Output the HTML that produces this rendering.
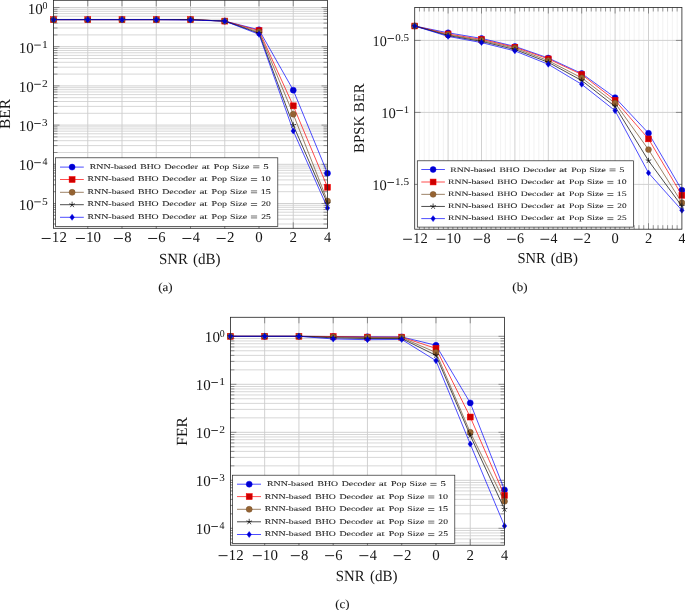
<!DOCTYPE html>
<html><head><meta charset="utf-8"><style>
html,body{margin:0;padding:0;background:#fff;overflow:hidden;}
svg{display:block;will-change:transform;}
text{font-family:"Liberation Serif", serif;fill:#151515;text-rendering:geometricPrecision;}
text.cap{stroke:#151515;stroke-width:0.08px;}
text.lg{fill:#262626;stroke:#262626;stroke-width:0.08px;}
</style></head><body>
<svg width="685" height="610" viewBox="0 0 685 610">
<defs><filter id="bl" x="0" y="0" width="100%" height="100%"><feGaussianBlur stdDeviation="0.28"/></filter></defs>
<rect width="685" height="610" fill="#fff"/>
<g filter="url(#bl)">
<g><path d="M53.5 224H327.5M53.5 219.1H327.5M53.5 215.3H327.5M53.5 212.2H327.5M53.5 209.57H327.5M53.5 207.3H327.5M53.5 205.29H327.5M53.5 191.7H327.5M53.5 184.8H327.5M53.5 179.9H327.5M53.5 176.1H327.5M53.5 173H327.5M53.5 170.37H327.5M53.5 168.1H327.5M53.5 166.09H327.5M53.5 152.5H327.5M53.5 145.6H327.5M53.5 140.7H327.5M53.5 136.9H327.5M53.5 133.8H327.5M53.5 131.17H327.5M53.5 128.9H327.5M53.5 126.89H327.5M53.5 113.3H327.5M53.5 106.4H327.5M53.5 101.5H327.5M53.5 97.7H327.5M53.5 94.6H327.5M53.5 91.97H327.5M53.5 89.7H327.5M53.5 87.69H327.5M53.5 74.1H327.5M53.5 67.2H327.5M53.5 62.3H327.5M53.5 58.5H327.5M53.5 55.4H327.5M53.5 52.77H327.5M53.5 50.5H327.5M53.5 48.49H327.5M53.5 34.9H327.5M53.5 28H327.5M53.5 23.1H327.5M53.5 19.3H327.5M53.5 16.2H327.5M53.5 13.57H327.5M53.5 11.3H327.5M53.5 9.29H327.5" stroke="#d2d2d2" stroke-width="0.9" fill="none"/><path d="M53.5 7.5H327.5M53.5 46.7H327.5M53.5 85.9H327.5M53.5 125.1H327.5M53.5 164.3H327.5M53.5 203.5H327.5M87.75 0.3V228.3M122 0.3V228.3M156.25 0.3V228.3M190.5 0.3V228.3M224.75 0.3V228.3M259 0.3V228.3M293.25 0.3V228.3" stroke="#cccccc" stroke-width="0.9" fill="none"/><path d="M53.5 7.5h6M327.5 7.5h-6M53.5 46.7h6M327.5 46.7h-6M53.5 85.9h6M327.5 85.9h-6M53.5 125.1h6M327.5 125.1h-6M53.5 164.3h6M327.5 164.3h-6M53.5 203.5h6M327.5 203.5h-6M53.5 224h4M327.5 224h-4M53.5 219.1h4M327.5 219.1h-4M53.5 215.3h4M327.5 215.3h-4M53.5 212.2h4M327.5 212.2h-4M53.5 209.57h4M327.5 209.57h-4M53.5 207.3h4M327.5 207.3h-4M53.5 205.29h4M327.5 205.29h-4M53.5 191.7h4M327.5 191.7h-4M53.5 184.8h4M327.5 184.8h-4M53.5 179.9h4M327.5 179.9h-4M53.5 176.1h4M327.5 176.1h-4M53.5 173h4M327.5 173h-4M53.5 170.37h4M327.5 170.37h-4M53.5 168.1h4M327.5 168.1h-4M53.5 166.09h4M327.5 166.09h-4M53.5 152.5h4M327.5 152.5h-4M53.5 145.6h4M327.5 145.6h-4M53.5 140.7h4M327.5 140.7h-4M53.5 136.9h4M327.5 136.9h-4M53.5 133.8h4M327.5 133.8h-4M53.5 131.17h4M327.5 131.17h-4M53.5 128.9h4M327.5 128.9h-4M53.5 126.89h4M327.5 126.89h-4M53.5 113.3h4M327.5 113.3h-4M53.5 106.4h4M327.5 106.4h-4M53.5 101.5h4M327.5 101.5h-4M53.5 97.7h4M327.5 97.7h-4M53.5 94.6h4M327.5 94.6h-4M53.5 91.97h4M327.5 91.97h-4M53.5 89.7h4M327.5 89.7h-4M53.5 87.69h4M327.5 87.69h-4M53.5 74.1h4M327.5 74.1h-4M53.5 67.2h4M327.5 67.2h-4M53.5 62.3h4M327.5 62.3h-4M53.5 58.5h4M327.5 58.5h-4M53.5 55.4h4M327.5 55.4h-4M53.5 52.77h4M327.5 52.77h-4M53.5 50.5h4M327.5 50.5h-4M53.5 48.49h4M327.5 48.49h-4M53.5 34.9h4M327.5 34.9h-4M53.5 28h4M327.5 28h-4M53.5 23.1h4M327.5 23.1h-4M53.5 19.3h4M327.5 19.3h-4M53.5 16.2h4M327.5 16.2h-4M53.5 13.57h4M327.5 13.57h-4M53.5 11.3h4M327.5 11.3h-4M53.5 9.29h4M327.5 9.29h-4M87.75 0.3v6M87.75 228.3v-6M122 0.3v6M122 228.3v-6M156.25 0.3v6M156.25 228.3v-6M190.5 0.3v6M190.5 228.3v-6M224.75 0.3v6M224.75 228.3v-6M259 0.3v6M259 228.3v-6M293.25 0.3v6M293.25 228.3v-6" stroke="#555" stroke-width="0.6" fill="none"/><path d="M53.5 19.64L87.75 19.64L122 19.64L156.25 19.64L190.5 19.64L224.75 21.09L259 29.79L293.25 90.13L327.5 173.28" stroke="#0000ff" stroke-width="0.7" fill="none" stroke-linejoin="round"/><circle cx="53.5" cy="19.64" r="3" fill="#0000cc" stroke="#0000ff" stroke-width="0.5"/><circle cx="87.75" cy="19.64" r="3" fill="#0000cc" stroke="#0000ff" stroke-width="0.5"/><circle cx="122" cy="19.64" r="3" fill="#0000cc" stroke="#0000ff" stroke-width="0.5"/><circle cx="156.25" cy="19.64" r="3" fill="#0000cc" stroke="#0000ff" stroke-width="0.5"/><circle cx="190.5" cy="19.64" r="3" fill="#0000cc" stroke="#0000ff" stroke-width="0.5"/><circle cx="224.75" cy="21.09" r="3" fill="#0000cc" stroke="#0000ff" stroke-width="0.5"/><circle cx="259" cy="29.79" r="3" fill="#0000cc" stroke="#0000ff" stroke-width="0.5"/><circle cx="293.25" cy="90.13" r="3" fill="#0000cc" stroke="#0000ff" stroke-width="0.5"/><circle cx="327.5" cy="173.28" r="3" fill="#0000cc" stroke="#0000ff" stroke-width="0.5"/><path d="M53.5 19.64L87.75 19.64L122 19.64L156.25 19.64L190.5 19.64L224.75 21.09L259 30.7L293.25 105.84L327.5 187.23" stroke="#ff0000" stroke-width="0.7" fill="none" stroke-linejoin="round"/><rect x="50.5" y="16.64" width="6" height="6" fill="#cc0000" stroke="#ff0000" stroke-width="0.5"/><rect x="84.75" y="16.64" width="6" height="6" fill="#cc0000" stroke="#ff0000" stroke-width="0.5"/><rect x="119" y="16.64" width="6" height="6" fill="#cc0000" stroke="#ff0000" stroke-width="0.5"/><rect x="153.25" y="16.64" width="6" height="6" fill="#cc0000" stroke="#ff0000" stroke-width="0.5"/><rect x="187.5" y="16.64" width="6" height="6" fill="#cc0000" stroke="#ff0000" stroke-width="0.5"/><rect x="221.75" y="18.09" width="6" height="6" fill="#cc0000" stroke="#ff0000" stroke-width="0.5"/><rect x="256" y="27.7" width="6" height="6" fill="#cc0000" stroke="#ff0000" stroke-width="0.5"/><rect x="290.25" y="102.84" width="6" height="6" fill="#cc0000" stroke="#ff0000" stroke-width="0.5"/><rect x="324.5" y="184.23" width="6" height="6" fill="#cc0000" stroke="#ff0000" stroke-width="0.5"/><path d="M53.5 19.64L87.75 19.64L122 19.64L156.25 19.64L190.5 19.64L224.75 21.09L259 32.08L293.25 114.17L327.5 201.12" stroke="#734d26" stroke-width="0.7" fill="none" stroke-linejoin="round"/><circle cx="53.5" cy="19.64" r="3" fill="#996633" stroke="#734d26" stroke-width="0.5"/><path d="M51.4 17.54L55.6 21.74M51.4 21.74L55.6 17.54" stroke="#734d26" stroke-width="0.4" opacity="0.5"/><circle cx="87.75" cy="19.64" r="3" fill="#996633" stroke="#734d26" stroke-width="0.5"/><path d="M85.65 17.54L89.85 21.74M85.65 21.74L89.85 17.54" stroke="#734d26" stroke-width="0.4" opacity="0.5"/><circle cx="122" cy="19.64" r="3" fill="#996633" stroke="#734d26" stroke-width="0.5"/><path d="M119.9 17.54L124.1 21.74M119.9 21.74L124.1 17.54" stroke="#734d26" stroke-width="0.4" opacity="0.5"/><circle cx="156.25" cy="19.64" r="3" fill="#996633" stroke="#734d26" stroke-width="0.5"/><path d="M154.15 17.54L158.35 21.74M154.15 21.74L158.35 17.54" stroke="#734d26" stroke-width="0.4" opacity="0.5"/><circle cx="190.5" cy="19.64" r="3" fill="#996633" stroke="#734d26" stroke-width="0.5"/><path d="M188.4 17.54L192.6 21.74M188.4 21.74L192.6 17.54" stroke="#734d26" stroke-width="0.4" opacity="0.5"/><circle cx="224.75" cy="21.09" r="3" fill="#996633" stroke="#734d26" stroke-width="0.5"/><path d="M222.65 18.99L226.85 23.19M222.65 23.19L226.85 18.99" stroke="#734d26" stroke-width="0.4" opacity="0.5"/><circle cx="259" cy="32.08" r="3" fill="#996633" stroke="#734d26" stroke-width="0.5"/><path d="M256.9 29.98L261.1 34.18M256.9 34.18L261.1 29.98" stroke="#734d26" stroke-width="0.4" opacity="0.5"/><circle cx="293.25" cy="114.17" r="3" fill="#996633" stroke="#734d26" stroke-width="0.5"/><path d="M291.15 112.07L295.35 116.27M291.15 116.27L295.35 112.07" stroke="#734d26" stroke-width="0.4" opacity="0.5"/><circle cx="327.5" cy="201.12" r="3" fill="#996633" stroke="#734d26" stroke-width="0.5"/><path d="M325.4 199.02L329.6 203.22M325.4 203.22L329.6 199.02" stroke="#734d26" stroke-width="0.4" opacity="0.5"/><path d="M53.5 19.64L87.75 19.64L122 19.64L156.25 19.64L190.5 19.64L224.75 21.09L259 33.28L293.25 125.27L327.5 203.5" stroke="#000000" stroke-width="0.7" fill="none" stroke-linejoin="round"/><path d="M53.5 19.64L53.5 16.64M53.5 19.64L50.65 18.72M53.5 19.64L51.74 22.07M53.5 19.64L55.26 22.07M53.5 19.64L56.35 18.72" stroke="#000000" stroke-width="0.7" fill="none"/><path d="M87.75 19.64L87.75 16.64M87.75 19.64L84.9 18.72M87.75 19.64L85.99 22.07M87.75 19.64L89.51 22.07M87.75 19.64L90.6 18.72" stroke="#000000" stroke-width="0.7" fill="none"/><path d="M122 19.64L122 16.64M122 19.64L119.15 18.72M122 19.64L120.24 22.07M122 19.64L123.76 22.07M122 19.64L124.85 18.72" stroke="#000000" stroke-width="0.7" fill="none"/><path d="M156.25 19.64L156.25 16.64M156.25 19.64L153.4 18.72M156.25 19.64L154.49 22.07M156.25 19.64L158.01 22.07M156.25 19.64L159.1 18.72" stroke="#000000" stroke-width="0.7" fill="none"/><path d="M190.5 19.64L190.5 16.64M190.5 19.64L187.65 18.72M190.5 19.64L188.74 22.07M190.5 19.64L192.26 22.07M190.5 19.64L193.35 18.72" stroke="#000000" stroke-width="0.7" fill="none"/><path d="M224.75 21.09L224.75 18.09M224.75 21.09L221.9 20.17M224.75 21.09L222.99 23.52M224.75 21.09L226.51 23.52M224.75 21.09L227.6 20.17" stroke="#000000" stroke-width="0.7" fill="none"/><path d="M259 33.28L259 30.28M259 33.28L256.15 32.35M259 33.28L257.24 35.7M259 33.28L260.76 35.7M259 33.28L261.85 32.35" stroke="#000000" stroke-width="0.7" fill="none"/><path d="M293.25 125.27L293.25 122.27M293.25 125.27L290.4 124.34M293.25 125.27L291.49 127.7M293.25 125.27L295.01 127.7M293.25 125.27L296.1 124.34" stroke="#000000" stroke-width="0.7" fill="none"/><path d="M327.5 203.5L327.5 200.5M327.5 203.5L324.65 202.57M327.5 203.5L325.74 205.93M327.5 203.5L329.26 205.93M327.5 203.5L330.35 202.57" stroke="#000000" stroke-width="0.7" fill="none"/><path d="M53.5 19.64L87.75 19.64L122 19.64L156.25 19.64L190.5 20L224.75 21.09L259 34.31L293.25 130.93L327.5 207.95" stroke="#0000ff" stroke-width="0.7" fill="none" stroke-linejoin="round"/><path d="M53.5 16.64L55.75 19.64L53.5 22.64L51.25 19.64Z" fill="#0000cc" stroke="#0000ff" stroke-width="0.5"/><path d="M87.75 16.64L90 19.64L87.75 22.64L85.5 19.64Z" fill="#0000cc" stroke="#0000ff" stroke-width="0.5"/><path d="M122 16.64L124.25 19.64L122 22.64L119.75 19.64Z" fill="#0000cc" stroke="#0000ff" stroke-width="0.5"/><path d="M156.25 16.64L158.5 19.64L156.25 22.64L154 19.64Z" fill="#0000cc" stroke="#0000ff" stroke-width="0.5"/><path d="M190.5 17L192.75 20L190.5 23L188.25 20Z" fill="#0000cc" stroke="#0000ff" stroke-width="0.5"/><path d="M224.75 18.09L227 21.09L224.75 24.09L222.5 21.09Z" fill="#0000cc" stroke="#0000ff" stroke-width="0.5"/><path d="M259 31.31L261.25 34.31L259 37.31L256.75 34.31Z" fill="#0000cc" stroke="#0000ff" stroke-width="0.5"/><path d="M293.25 127.93L295.5 130.93L293.25 133.93L291 130.93Z" fill="#0000cc" stroke="#0000ff" stroke-width="0.5"/><path d="M327.5 204.95L329.75 207.95L327.5 210.95L325.25 207.95Z" fill="#0000cc" stroke="#0000ff" stroke-width="0.5"/><rect x="55.6" y="157.8" width="222.2" height="68.7" fill="#fff" stroke="#222" stroke-width="0.7"/><path d="M60 167.1H83.8" stroke="#0000ff" stroke-width="0.7"/><circle cx="72.1" cy="167.1" r="3" fill="#0000cc" stroke="#0000ff" stroke-width="0.5"/><text x="89.77" y="168.6" font-size="7.1" textLength="46.6" lengthAdjust="spacingAndGlyphs" class="lg">RNN-based</text><text x="140.27" y="168.6" font-size="7.1" textLength="20.58" lengthAdjust="spacingAndGlyphs" class="lg">BHO</text><text x="164.46" y="168.6" font-size="7.1" textLength="33.57" lengthAdjust="spacingAndGlyphs" class="lg">Decoder</text><text x="201.66" y="168.6" font-size="7.1" textLength="8.06" lengthAdjust="spacingAndGlyphs" class="lg">at</text><text x="213.86" y="168.6" font-size="7.1" textLength="15.47" lengthAdjust="spacingAndGlyphs" class="lg">Pop</text><text x="232.29" y="168.6" font-size="7.1" textLength="17.11" lengthAdjust="spacingAndGlyphs" class="lg">Size</text><rect x="253.15" y="165.53" width="6.2" height="0.75" fill="#444"/><rect x="253.15" y="167.47" width="6.2" height="0.75" fill="#444"/><text x="263.23" y="168.6" font-size="7.1" textLength="5.34" lengthAdjust="spacingAndGlyphs" class="lg">5</text><path d="M60 179.5H83.8" stroke="#ff0000" stroke-width="0.7"/><rect x="69.1" y="176.5" width="6" height="6" fill="#cc0000" stroke="#ff0000" stroke-width="0.5"/><text x="87.52" y="181.1" font-size="7.1" textLength="46.6" lengthAdjust="spacingAndGlyphs" class="lg">RNN-based</text><text x="138.02" y="181.1" font-size="7.1" textLength="20.58" lengthAdjust="spacingAndGlyphs" class="lg">BHO</text><text x="162.21" y="181.1" font-size="7.1" textLength="33.57" lengthAdjust="spacingAndGlyphs" class="lg">Decoder</text><text x="199.41" y="181.1" font-size="7.1" textLength="8.06" lengthAdjust="spacingAndGlyphs" class="lg">at</text><text x="211.61" y="181.1" font-size="7.1" textLength="15.47" lengthAdjust="spacingAndGlyphs" class="lg">Pop</text><text x="230.04" y="181.1" font-size="7.1" textLength="17.11" lengthAdjust="spacingAndGlyphs" class="lg">Size</text><rect x="250.9" y="178.03" width="6.2" height="0.75" fill="#444"/><rect x="250.9" y="179.97" width="6.2" height="0.75" fill="#444"/><text x="260.72" y="181.1" font-size="7.1" textLength="10.07" lengthAdjust="spacingAndGlyphs" class="lg">10</text><path d="M60 192.3H83.8" stroke="#734d26" stroke-width="0.7"/><circle cx="72.1" cy="192.3" r="3" fill="#996633" stroke="#734d26" stroke-width="0.5"/><path d="M70 190.2L74.2 194.4M70 194.4L74.2 190.2" stroke="#734d26" stroke-width="0.4" opacity="0.5"/><text x="87.52" y="193.6" font-size="7.1" textLength="46.6" lengthAdjust="spacingAndGlyphs" class="lg">RNN-based</text><text x="138.02" y="193.6" font-size="7.1" textLength="20.58" lengthAdjust="spacingAndGlyphs" class="lg">BHO</text><text x="162.21" y="193.6" font-size="7.1" textLength="33.57" lengthAdjust="spacingAndGlyphs" class="lg">Decoder</text><text x="199.41" y="193.6" font-size="7.1" textLength="8.06" lengthAdjust="spacingAndGlyphs" class="lg">at</text><text x="211.61" y="193.6" font-size="7.1" textLength="15.47" lengthAdjust="spacingAndGlyphs" class="lg">Pop</text><text x="230.04" y="193.6" font-size="7.1" textLength="17.11" lengthAdjust="spacingAndGlyphs" class="lg">Size</text><rect x="250.9" y="190.53" width="6.2" height="0.75" fill="#444"/><rect x="250.9" y="192.47" width="6.2" height="0.75" fill="#444"/><text x="260.71" y="193.6" font-size="7.1" textLength="10.08" lengthAdjust="spacingAndGlyphs" class="lg">15</text><path d="M60 204.7H83.8" stroke="#000000" stroke-width="0.7"/><path d="M72.1 204.7L72.1 201.7M72.1 204.7L69.25 203.77M72.1 204.7L70.34 207.13M72.1 204.7L73.86 207.13M72.1 204.7L74.95 203.77" stroke="#000000" stroke-width="0.7" fill="none"/><text x="87.52" y="206.2" font-size="7.1" textLength="46.6" lengthAdjust="spacingAndGlyphs" class="lg">RNN-based</text><text x="138.02" y="206.2" font-size="7.1" textLength="20.58" lengthAdjust="spacingAndGlyphs" class="lg">BHO</text><text x="162.21" y="206.2" font-size="7.1" textLength="33.57" lengthAdjust="spacingAndGlyphs" class="lg">Decoder</text><text x="199.41" y="206.2" font-size="7.1" textLength="8.06" lengthAdjust="spacingAndGlyphs" class="lg">at</text><text x="211.61" y="206.2" font-size="7.1" textLength="15.47" lengthAdjust="spacingAndGlyphs" class="lg">Pop</text><text x="230.04" y="206.2" font-size="7.1" textLength="17.11" lengthAdjust="spacingAndGlyphs" class="lg">Size</text><rect x="250.9" y="203.12" width="6.2" height="0.75" fill="#444"/><rect x="250.9" y="205.07" width="6.2" height="0.75" fill="#444"/><text x="261.18" y="206.2" font-size="7.1" textLength="9.59" lengthAdjust="spacingAndGlyphs" class="lg">20</text><path d="M60 217.3H83.8" stroke="#0000ff" stroke-width="0.7"/><path d="M72.1 214.3L74.35 217.3L72.1 220.3L69.85 217.3Z" fill="#0000cc" stroke="#0000ff" stroke-width="0.5"/><text x="87.52" y="218.7" font-size="7.1" textLength="46.6" lengthAdjust="spacingAndGlyphs" class="lg">RNN-based</text><text x="138.02" y="218.7" font-size="7.1" textLength="20.58" lengthAdjust="spacingAndGlyphs" class="lg">BHO</text><text x="162.21" y="218.7" font-size="7.1" textLength="33.57" lengthAdjust="spacingAndGlyphs" class="lg">Decoder</text><text x="199.41" y="218.7" font-size="7.1" textLength="8.06" lengthAdjust="spacingAndGlyphs" class="lg">at</text><text x="211.61" y="218.7" font-size="7.1" textLength="15.47" lengthAdjust="spacingAndGlyphs" class="lg">Pop</text><text x="230.04" y="218.7" font-size="7.1" textLength="17.11" lengthAdjust="spacingAndGlyphs" class="lg">Size</text><rect x="250.9" y="215.62" width="6.2" height="0.75" fill="#444"/><rect x="250.9" y="217.57" width="6.2" height="0.75" fill="#444"/><text x="261.18" y="218.7" font-size="7.1" textLength="9.6" lengthAdjust="spacingAndGlyphs" class="lg">25</text><rect x="53.5" y="0.3" width="274" height="228" fill="none" stroke="#222" stroke-width="0.8"/><rect x="41.66" y="237.98" width="9" height="0.95" fill="#1a1a1a"/><text x="51.89" y="242.4" font-size="15" textLength="7.12" lengthAdjust="spacingAndGlyphs" >1</text><text x="59.43" y="242.4" font-size="15" textLength="7.46" lengthAdjust="spacingAndGlyphs" >2</text><rect x="75.91" y="237.98" width="9" height="0.95" fill="#1a1a1a"/><text x="86.14" y="242.4" font-size="15" textLength="7.12" lengthAdjust="spacingAndGlyphs" >1</text><text x="93.6" y="242.4" font-size="15" textLength="7.47" lengthAdjust="spacingAndGlyphs" >0</text><rect x="113.91" y="237.98" width="9" height="0.95" fill="#1a1a1a"/><text x="124.16" y="242.4" font-size="15" textLength="7.34" lengthAdjust="spacingAndGlyphs" >8</text><rect x="148.16" y="237.98" width="9" height="0.95" fill="#1a1a1a"/><text x="158.34" y="242.4" font-size="15" textLength="7.29" lengthAdjust="spacingAndGlyphs" >6</text><rect x="182.41" y="237.98" width="9" height="0.95" fill="#1a1a1a"/><text x="192.73" y="242.4" font-size="15" textLength="7.15" lengthAdjust="spacingAndGlyphs" >4</text><rect x="216.66" y="237.98" width="9" height="0.95" fill="#1a1a1a"/><text x="226.93" y="242.4" font-size="15" textLength="7.46" lengthAdjust="spacingAndGlyphs" >2</text><text x="255.27" y="242.4" font-size="15" textLength="7.47" lengthAdjust="spacingAndGlyphs" >0</text><text x="289.59" y="242.4" font-size="15" textLength="7.46" lengthAdjust="spacingAndGlyphs" >2</text><text x="323.89" y="242.4" font-size="15" textLength="7.15" lengthAdjust="spacingAndGlyphs" >4</text><text x="27.77" y="13.6" font-size="15" textLength="15.1" lengthAdjust="spacingAndGlyphs" >10</text><text x="42.62" y="8.6" font-size="10.5" textLength="4.95" lengthAdjust="spacingAndGlyphs" >0</text><text x="18.68" y="52.8" font-size="15" textLength="14.99" lengthAdjust="spacingAndGlyphs" >10</text><rect x="34.2" y="44.65" width="6.6" height="0.85" fill="#1a1a1a"/><text x="42.08" y="47.8" font-size="10.5" textLength="5.82" lengthAdjust="spacingAndGlyphs" >1</text><text x="18.68" y="92" font-size="15" textLength="14.99" lengthAdjust="spacingAndGlyphs" >10</text><rect x="34.2" y="83.84" width="6.6" height="0.85" fill="#1a1a1a"/><text x="42.1" y="87" font-size="10.5" textLength="5.74" lengthAdjust="spacingAndGlyphs" >2</text><text x="18.68" y="131.2" font-size="15" textLength="14.99" lengthAdjust="spacingAndGlyphs" >10</text><rect x="34.2" y="123.05" width="6.6" height="0.85" fill="#1a1a1a"/><text x="42.07" y="126.2" font-size="10.5" textLength="5.57" lengthAdjust="spacingAndGlyphs" >3</text><text x="18.68" y="170.4" font-size="15" textLength="14.99" lengthAdjust="spacingAndGlyphs" >10</text><rect x="34.2" y="162.25" width="6.6" height="0.85" fill="#1a1a1a"/><text x="42.41" y="165.4" font-size="10.5" textLength="4.95" lengthAdjust="spacingAndGlyphs" >4</text><text x="18.68" y="209.6" font-size="15" textLength="14.99" lengthAdjust="spacingAndGlyphs" >10</text><rect x="34.2" y="201.44" width="6.6" height="0.85" fill="#1a1a1a"/><text x="41.94" y="204.6" font-size="10.5" textLength="5.71" lengthAdjust="spacingAndGlyphs" >5</text><text x="158.9" y="263.5" font-size="15.5" textLength="29.02" lengthAdjust="spacingAndGlyphs" >SNR</text><text x="192.94" y="263.5" font-size="15.5" textLength="27.62" lengthAdjust="spacingAndGlyphs" >(dB)</text><text transform="translate(10 128.6) rotate(-90)" x="-0.45" y="0" font-size="15.5" textLength="30.17" lengthAdjust="spacingAndGlyphs" >BER</text><text x="158.23" y="290.5" font-size="12.2" textLength="14.44" lengthAdjust="spacingAndGlyphs" class="cap">(a)</text></g><g><path d="M419.47 7.5V229.2M424.24 7.5V229.2M429.01 7.5V229.2M433.79 7.5V229.2M438.56 7.5V229.2M443.33 7.5V229.2M452.87 7.5V229.2M457.64 7.5V229.2M462.41 7.5V229.2M467.19 7.5V229.2M471.96 7.5V229.2M476.73 7.5V229.2M486.27 7.5V229.2M491.04 7.5V229.2M495.81 7.5V229.2M500.59 7.5V229.2M505.36 7.5V229.2M510.13 7.5V229.2M519.67 7.5V229.2M524.44 7.5V229.2M529.21 7.5V229.2M533.99 7.5V229.2M538.76 7.5V229.2M543.53 7.5V229.2M553.07 7.5V229.2M557.84 7.5V229.2M562.61 7.5V229.2M567.39 7.5V229.2M572.16 7.5V229.2M576.93 7.5V229.2M586.47 7.5V229.2M591.24 7.5V229.2M596.01 7.5V229.2M600.79 7.5V229.2M605.56 7.5V229.2M610.33 7.5V229.2M619.87 7.5V229.2M624.64 7.5V229.2M629.41 7.5V229.2M634.19 7.5V229.2M638.96 7.5V229.2M643.73 7.5V229.2M653.27 7.5V229.2M658.04 7.5V229.2M662.81 7.5V229.2M667.59 7.5V229.2M672.36 7.5V229.2M677.13 7.5V229.2" stroke="#f0f0f0" stroke-width="0.9" fill="none"/><path d="M414.7 40.4H681.9M414.7 112.4H681.9M414.7 184.4H681.9M448.1 7.5V229.2M481.5 7.5V229.2M514.9 7.5V229.2M548.3 7.5V229.2M581.7 7.5V229.2M615.1 7.5V229.2M648.5 7.5V229.2" stroke="#cccccc" stroke-width="0.9" fill="none"/><path d="M414.7 40.4h6M681.9 40.4h-6M414.7 112.4h6M681.9 112.4h-6M414.7 184.4h6M681.9 184.4h-6M448.1 7.5v6M448.1 229.2v-6M481.5 7.5v6M481.5 229.2v-6M514.9 7.5v6M514.9 229.2v-6M548.3 7.5v6M548.3 229.2v-6M581.7 7.5v6M581.7 229.2v-6M615.1 7.5v6M615.1 229.2v-6M648.5 7.5v6M648.5 229.2v-6M419.47 7.5v4M419.47 229.2v-4M424.24 7.5v4M424.24 229.2v-4M429.01 7.5v4M429.01 229.2v-4M433.79 7.5v4M433.79 229.2v-4M438.56 7.5v4M438.56 229.2v-4M443.33 7.5v4M443.33 229.2v-4M452.87 7.5v4M452.87 229.2v-4M457.64 7.5v4M457.64 229.2v-4M462.41 7.5v4M462.41 229.2v-4M467.19 7.5v4M467.19 229.2v-4M471.96 7.5v4M471.96 229.2v-4M476.73 7.5v4M476.73 229.2v-4M486.27 7.5v4M486.27 229.2v-4M491.04 7.5v4M491.04 229.2v-4M495.81 7.5v4M495.81 229.2v-4M500.59 7.5v4M500.59 229.2v-4M505.36 7.5v4M505.36 229.2v-4M510.13 7.5v4M510.13 229.2v-4M519.67 7.5v4M519.67 229.2v-4M524.44 7.5v4M524.44 229.2v-4M529.21 7.5v4M529.21 229.2v-4M533.99 7.5v4M533.99 229.2v-4M538.76 7.5v4M538.76 229.2v-4M543.53 7.5v4M543.53 229.2v-4M553.07 7.5v4M553.07 229.2v-4M557.84 7.5v4M557.84 229.2v-4M562.61 7.5v4M562.61 229.2v-4M567.39 7.5v4M567.39 229.2v-4M572.16 7.5v4M572.16 229.2v-4M576.93 7.5v4M576.93 229.2v-4M586.47 7.5v4M586.47 229.2v-4M591.24 7.5v4M591.24 229.2v-4M596.01 7.5v4M596.01 229.2v-4M600.79 7.5v4M600.79 229.2v-4M605.56 7.5v4M605.56 229.2v-4M610.33 7.5v4M610.33 229.2v-4M619.87 7.5v4M619.87 229.2v-4M624.64 7.5v4M624.64 229.2v-4M629.41 7.5v4M629.41 229.2v-4M634.19 7.5v4M634.19 229.2v-4M638.96 7.5v4M638.96 229.2v-4M643.73 7.5v4M643.73 229.2v-4M653.27 7.5v4M653.27 229.2v-4M658.04 7.5v4M658.04 229.2v-4M662.81 7.5v4M662.81 229.2v-4M667.59 7.5v4M667.59 229.2v-4M672.36 7.5v4M672.36 229.2v-4M677.13 7.5v4M677.13 229.2v-4" stroke="#555" stroke-width="0.6" fill="none"/><path d="M414.7 26L448.1 32.8L481.5 38.4L514.9 46.4L548.3 58L581.7 73.5L615.1 97.6L648.5 133.2L681.9 190.2" stroke="#0000ff" stroke-width="0.7" fill="none" stroke-linejoin="round"/><circle cx="414.7" cy="26" r="2.95" fill="#0000cc" stroke="#0000ff" stroke-width="0.5"/><circle cx="448.1" cy="32.8" r="2.95" fill="#0000cc" stroke="#0000ff" stroke-width="0.5"/><circle cx="481.5" cy="38.4" r="2.95" fill="#0000cc" stroke="#0000ff" stroke-width="0.5"/><circle cx="514.9" cy="46.4" r="2.95" fill="#0000cc" stroke="#0000ff" stroke-width="0.5"/><circle cx="548.3" cy="58" r="2.95" fill="#0000cc" stroke="#0000ff" stroke-width="0.5"/><circle cx="581.7" cy="73.5" r="2.95" fill="#0000cc" stroke="#0000ff" stroke-width="0.5"/><circle cx="615.1" cy="97.6" r="2.95" fill="#0000cc" stroke="#0000ff" stroke-width="0.5"/><circle cx="648.5" cy="133.2" r="2.95" fill="#0000cc" stroke="#0000ff" stroke-width="0.5"/><circle cx="681.9" cy="190.2" r="2.95" fill="#0000cc" stroke="#0000ff" stroke-width="0.5"/><path d="M414.7 26L448.1 34L481.5 39.4L514.9 47.2L548.3 58.9L581.7 74.5L615.1 100.4L648.5 138.9L681.9 195.3" stroke="#ff0000" stroke-width="0.7" fill="none" stroke-linejoin="round"/><rect x="411.75" y="23.05" width="5.9" height="5.9" fill="#cc0000" stroke="#ff0000" stroke-width="0.5"/><rect x="445.15" y="31.05" width="5.9" height="5.9" fill="#cc0000" stroke="#ff0000" stroke-width="0.5"/><rect x="478.55" y="36.45" width="5.9" height="5.9" fill="#cc0000" stroke="#ff0000" stroke-width="0.5"/><rect x="511.95" y="44.25" width="5.9" height="5.9" fill="#cc0000" stroke="#ff0000" stroke-width="0.5"/><rect x="545.35" y="55.95" width="5.9" height="5.9" fill="#cc0000" stroke="#ff0000" stroke-width="0.5"/><rect x="578.75" y="71.55" width="5.9" height="5.9" fill="#cc0000" stroke="#ff0000" stroke-width="0.5"/><rect x="612.15" y="97.45" width="5.9" height="5.9" fill="#cc0000" stroke="#ff0000" stroke-width="0.5"/><rect x="645.55" y="135.95" width="5.9" height="5.9" fill="#cc0000" stroke="#ff0000" stroke-width="0.5"/><rect x="678.95" y="192.35" width="5.9" height="5.9" fill="#cc0000" stroke="#ff0000" stroke-width="0.5"/><path d="M414.7 26L448.1 34.8L481.5 40.4L514.9 48.2L548.3 60.7L581.7 77.9L615.1 103.2L648.5 149.6L681.9 202.7" stroke="#734d26" stroke-width="0.7" fill="none" stroke-linejoin="round"/><circle cx="414.7" cy="26" r="2.95" fill="#996633" stroke="#734d26" stroke-width="0.5"/><path d="M412.63 23.93L416.76 28.07M412.63 28.07L416.76 23.93" stroke="#734d26" stroke-width="0.4" opacity="0.5"/><circle cx="448.1" cy="34.8" r="2.95" fill="#996633" stroke="#734d26" stroke-width="0.5"/><path d="M446.03 32.73L450.16 36.86M446.03 36.86L450.16 32.73" stroke="#734d26" stroke-width="0.4" opacity="0.5"/><circle cx="481.5" cy="40.4" r="2.95" fill="#996633" stroke="#734d26" stroke-width="0.5"/><path d="M479.44 38.34L483.56 42.47M479.44 42.47L483.56 38.34" stroke="#734d26" stroke-width="0.4" opacity="0.5"/><circle cx="514.9" cy="48.2" r="2.95" fill="#996633" stroke="#734d26" stroke-width="0.5"/><path d="M512.83 46.14L516.97 50.27M512.83 50.27L516.97 46.14" stroke="#734d26" stroke-width="0.4" opacity="0.5"/><circle cx="548.3" cy="60.7" r="2.95" fill="#996633" stroke="#734d26" stroke-width="0.5"/><path d="M546.23 58.64L550.37 62.77M546.23 62.77L550.37 58.64" stroke="#734d26" stroke-width="0.4" opacity="0.5"/><circle cx="581.7" cy="77.9" r="2.95" fill="#996633" stroke="#734d26" stroke-width="0.5"/><path d="M579.63 75.84L583.77 79.97M579.63 79.97L583.77 75.84" stroke="#734d26" stroke-width="0.4" opacity="0.5"/><circle cx="615.1" cy="103.2" r="2.95" fill="#996633" stroke="#734d26" stroke-width="0.5"/><path d="M613.03 101.14L617.16 105.27M613.03 105.27L617.16 101.14" stroke="#734d26" stroke-width="0.4" opacity="0.5"/><circle cx="648.5" cy="149.6" r="2.95" fill="#996633" stroke="#734d26" stroke-width="0.5"/><path d="M646.43 147.53L650.57 151.66M646.43 151.66L650.57 147.53" stroke="#734d26" stroke-width="0.4" opacity="0.5"/><circle cx="681.9" cy="202.7" r="2.95" fill="#996633" stroke="#734d26" stroke-width="0.5"/><path d="M679.83 200.63L683.97 204.76M679.83 204.76L683.97 200.63" stroke="#734d26" stroke-width="0.4" opacity="0.5"/><path d="M414.7 26L448.1 35.6L481.5 41.4L514.9 49.5L548.3 62.3L581.7 80.5L615.1 106.5L648.5 160.7L681.9 206.2" stroke="#000000" stroke-width="0.7" fill="none" stroke-linejoin="round"/><path d="M414.7 26L414.7 23.05M414.7 26L411.89 25.09M414.7 26L412.97 28.39M414.7 26L416.43 28.39M414.7 26L417.51 25.09" stroke="#000000" stroke-width="0.7" fill="none"/><path d="M448.1 35.6L448.1 32.65M448.1 35.6L445.29 34.69M448.1 35.6L446.37 37.99M448.1 35.6L449.83 37.99M448.1 35.6L450.91 34.69" stroke="#000000" stroke-width="0.7" fill="none"/><path d="M481.5 41.4L481.5 38.45M481.5 41.4L478.69 40.49M481.5 41.4L479.77 43.79M481.5 41.4L483.23 43.79M481.5 41.4L484.31 40.49" stroke="#000000" stroke-width="0.7" fill="none"/><path d="M514.9 49.5L514.9 46.55M514.9 49.5L512.09 48.59M514.9 49.5L513.17 51.89M514.9 49.5L516.63 51.89M514.9 49.5L517.71 48.59" stroke="#000000" stroke-width="0.7" fill="none"/><path d="M548.3 62.3L548.3 59.35M548.3 62.3L545.49 61.39M548.3 62.3L546.57 64.69M548.3 62.3L550.03 64.69M548.3 62.3L551.11 61.39" stroke="#000000" stroke-width="0.7" fill="none"/><path d="M581.7 80.5L581.7 77.55M581.7 80.5L578.89 79.59M581.7 80.5L579.97 82.89M581.7 80.5L583.43 82.89M581.7 80.5L584.51 79.59" stroke="#000000" stroke-width="0.7" fill="none"/><path d="M615.1 106.5L615.1 103.55M615.1 106.5L612.29 105.59M615.1 106.5L613.37 108.89M615.1 106.5L616.83 108.89M615.1 106.5L617.91 105.59" stroke="#000000" stroke-width="0.7" fill="none"/><path d="M648.5 160.7L648.5 157.75M648.5 160.7L645.69 159.79M648.5 160.7L646.77 163.09M648.5 160.7L650.23 163.09M648.5 160.7L651.31 159.79" stroke="#000000" stroke-width="0.7" fill="none"/><path d="M681.9 206.2L681.9 203.25M681.9 206.2L679.09 205.29M681.9 206.2L680.17 208.59M681.9 206.2L683.63 208.59M681.9 206.2L684.71 205.29" stroke="#000000" stroke-width="0.7" fill="none"/><path d="M414.7 26L448.1 36.4L481.5 42.6L514.9 50.9L548.3 64.3L581.7 84.3L615.1 110.7L648.5 172.9L681.9 210.3" stroke="#0000ff" stroke-width="0.7" fill="none" stroke-linejoin="round"/><path d="M414.7 23.05L416.91 26L414.7 28.95L412.49 26Z" fill="#0000cc" stroke="#0000ff" stroke-width="0.5"/><path d="M448.1 33.45L450.31 36.4L448.1 39.35L445.89 36.4Z" fill="#0000cc" stroke="#0000ff" stroke-width="0.5"/><path d="M481.5 39.65L483.71 42.6L481.5 45.55L479.29 42.6Z" fill="#0000cc" stroke="#0000ff" stroke-width="0.5"/><path d="M514.9 47.95L517.11 50.9L514.9 53.85L512.69 50.9Z" fill="#0000cc" stroke="#0000ff" stroke-width="0.5"/><path d="M548.3 61.35L550.51 64.3L548.3 67.25L546.09 64.3Z" fill="#0000cc" stroke="#0000ff" stroke-width="0.5"/><path d="M581.7 81.35L583.91 84.3L581.7 87.25L579.49 84.3Z" fill="#0000cc" stroke="#0000ff" stroke-width="0.5"/><path d="M615.1 107.75L617.31 110.7L615.1 113.65L612.89 110.7Z" fill="#0000cc" stroke="#0000ff" stroke-width="0.5"/><path d="M648.5 169.95L650.71 172.9L648.5 175.85L646.29 172.9Z" fill="#0000cc" stroke="#0000ff" stroke-width="0.5"/><path d="M681.9 207.35L684.11 210.3L681.9 213.25L679.69 210.3Z" fill="#0000cc" stroke="#0000ff" stroke-width="0.5"/><rect x="417.3" y="160.8" width="216.3" height="66.3" fill="#fff" stroke="#222" stroke-width="0.7"/><path d="M421.3 169.5H444.9" stroke="#0000ff" stroke-width="0.7"/><circle cx="433.1" cy="169.5" r="2.95" fill="#0000cc" stroke="#0000ff" stroke-width="0.5"/><text x="450.22" y="171.6" font-size="6.95" textLength="45.44" lengthAdjust="spacingAndGlyphs" class="lg">RNN-based</text><text x="499.46" y="171.6" font-size="6.95" textLength="20.07" lengthAdjust="spacingAndGlyphs" class="lg">BHO</text><text x="523.05" y="171.6" font-size="6.95" textLength="32.73" lengthAdjust="spacingAndGlyphs" class="lg">Decoder</text><text x="559.31" y="171.6" font-size="6.95" textLength="7.86" lengthAdjust="spacingAndGlyphs" class="lg">at</text><text x="571.21" y="171.6" font-size="6.95" textLength="15.09" lengthAdjust="spacingAndGlyphs" class="lg">Pop</text><text x="589.17" y="171.6" font-size="6.95" textLength="16.68" lengthAdjust="spacingAndGlyphs" class="lg">Size</text><rect x="609.52" y="168.59" width="6.04" height="0.75" fill="#444"/><rect x="609.52" y="170.49" width="6.04" height="0.75" fill="#444"/><text x="619.34" y="171.6" font-size="6.95" textLength="5.2" lengthAdjust="spacingAndGlyphs" class="lg">5</text><path d="M421.3 182H444.9" stroke="#ff0000" stroke-width="0.7"/><rect x="430.15" y="179.05" width="5.9" height="5.9" fill="#cc0000" stroke="#ff0000" stroke-width="0.5"/><text x="448.02" y="183.95" font-size="6.95" textLength="45.44" lengthAdjust="spacingAndGlyphs" class="lg">RNN-based</text><text x="497.26" y="183.95" font-size="6.95" textLength="20.07" lengthAdjust="spacingAndGlyphs" class="lg">BHO</text><text x="520.85" y="183.95" font-size="6.95" textLength="32.73" lengthAdjust="spacingAndGlyphs" class="lg">Decoder</text><text x="557.12" y="183.95" font-size="6.95" textLength="7.86" lengthAdjust="spacingAndGlyphs" class="lg">at</text><text x="569.02" y="183.95" font-size="6.95" textLength="15.09" lengthAdjust="spacingAndGlyphs" class="lg">Pop</text><text x="586.98" y="183.95" font-size="6.95" textLength="16.68" lengthAdjust="spacingAndGlyphs" class="lg">Size</text><rect x="607.32" y="180.94" width="6.05" height="0.75" fill="#444"/><rect x="607.32" y="182.84" width="6.05" height="0.75" fill="#444"/><text x="616.89" y="183.95" font-size="6.95" textLength="9.82" lengthAdjust="spacingAndGlyphs" class="lg">10</text><path d="M421.3 194.35H444.9" stroke="#734d26" stroke-width="0.7"/><circle cx="433.1" cy="194.35" r="2.95" fill="#996633" stroke="#734d26" stroke-width="0.5"/><path d="M431.04 192.28L435.17 196.41M431.04 196.41L435.17 192.28" stroke="#734d26" stroke-width="0.4" opacity="0.5"/><text x="448.02" y="196.2" font-size="6.95" textLength="45.44" lengthAdjust="spacingAndGlyphs" class="lg">RNN-based</text><text x="497.26" y="196.2" font-size="6.95" textLength="20.07" lengthAdjust="spacingAndGlyphs" class="lg">BHO</text><text x="520.85" y="196.2" font-size="6.95" textLength="32.73" lengthAdjust="spacingAndGlyphs" class="lg">Decoder</text><text x="557.12" y="196.2" font-size="6.95" textLength="7.86" lengthAdjust="spacingAndGlyphs" class="lg">at</text><text x="569.02" y="196.2" font-size="6.95" textLength="15.09" lengthAdjust="spacingAndGlyphs" class="lg">Pop</text><text x="586.98" y="196.2" font-size="6.95" textLength="16.68" lengthAdjust="spacingAndGlyphs" class="lg">Size</text><rect x="607.32" y="193.19" width="6.05" height="0.75" fill="#444"/><rect x="607.32" y="195.09" width="6.05" height="0.75" fill="#444"/><text x="616.89" y="196.2" font-size="6.95" textLength="9.83" lengthAdjust="spacingAndGlyphs" class="lg">15</text><path d="M421.3 206.45H444.9" stroke="#000000" stroke-width="0.7"/><path d="M433.1 206.45L433.1 203.5M433.1 206.45L430.29 205.54M433.1 206.45L431.37 208.84M433.1 206.45L434.83 208.84M433.1 206.45L435.91 205.54" stroke="#000000" stroke-width="0.7" fill="none"/><text x="448.02" y="208.2" font-size="6.95" textLength="45.44" lengthAdjust="spacingAndGlyphs" class="lg">RNN-based</text><text x="497.26" y="208.2" font-size="6.95" textLength="20.07" lengthAdjust="spacingAndGlyphs" class="lg">BHO</text><text x="520.85" y="208.2" font-size="6.95" textLength="32.73" lengthAdjust="spacingAndGlyphs" class="lg">Decoder</text><text x="557.12" y="208.2" font-size="6.95" textLength="7.86" lengthAdjust="spacingAndGlyphs" class="lg">at</text><text x="569.02" y="208.2" font-size="6.95" textLength="15.09" lengthAdjust="spacingAndGlyphs" class="lg">Pop</text><text x="586.98" y="208.2" font-size="6.95" textLength="16.68" lengthAdjust="spacingAndGlyphs" class="lg">Size</text><rect x="607.32" y="205.19" width="6.05" height="0.75" fill="#444"/><rect x="607.32" y="207.09" width="6.05" height="0.75" fill="#444"/><text x="617.34" y="208.2" font-size="6.95" textLength="9.35" lengthAdjust="spacingAndGlyphs" class="lg">20</text><path d="M421.3 218.6H444.9" stroke="#0000ff" stroke-width="0.7"/><path d="M433.1 215.65L435.31 218.6L433.1 221.55L430.89 218.6Z" fill="#0000cc" stroke="#0000ff" stroke-width="0.5"/><text x="448.02" y="220.4" font-size="6.95" textLength="45.44" lengthAdjust="spacingAndGlyphs" class="lg">RNN-based</text><text x="497.26" y="220.4" font-size="6.95" textLength="20.07" lengthAdjust="spacingAndGlyphs" class="lg">BHO</text><text x="520.85" y="220.4" font-size="6.95" textLength="32.73" lengthAdjust="spacingAndGlyphs" class="lg">Decoder</text><text x="557.12" y="220.4" font-size="6.95" textLength="7.86" lengthAdjust="spacingAndGlyphs" class="lg">at</text><text x="569.02" y="220.4" font-size="6.95" textLength="15.09" lengthAdjust="spacingAndGlyphs" class="lg">Pop</text><text x="586.98" y="220.4" font-size="6.95" textLength="16.68" lengthAdjust="spacingAndGlyphs" class="lg">Size</text><rect x="607.32" y="217.39" width="6.05" height="0.75" fill="#444"/><rect x="607.32" y="219.29" width="6.05" height="0.75" fill="#444"/><text x="617.34" y="220.4" font-size="6.95" textLength="9.36" lengthAdjust="spacingAndGlyphs" class="lg">25</text><rect x="414.7" y="7.5" width="267.2" height="221.7" fill="none" stroke="#222" stroke-width="0.8"/><rect x="403.18" y="238.79" width="8.76" height="0.95" fill="#1a1a1a"/><text x="413.13" y="243.1" font-size="14.6" textLength="6.93" lengthAdjust="spacingAndGlyphs" >1</text><text x="420.47" y="243.1" font-size="14.6" textLength="7.27" lengthAdjust="spacingAndGlyphs" >2</text><rect x="436.58" y="238.79" width="8.76" height="0.95" fill="#1a1a1a"/><text x="446.53" y="243.1" font-size="14.6" textLength="6.93" lengthAdjust="spacingAndGlyphs" >1</text><text x="453.8" y="243.1" font-size="14.6" textLength="7.27" lengthAdjust="spacingAndGlyphs" >0</text><rect x="473.63" y="238.79" width="8.76" height="0.95" fill="#1a1a1a"/><text x="483.6" y="243.1" font-size="14.6" textLength="7.15" lengthAdjust="spacingAndGlyphs" >8</text><rect x="507.03" y="238.79" width="8.76" height="0.95" fill="#1a1a1a"/><text x="516.93" y="243.1" font-size="14.6" textLength="7.09" lengthAdjust="spacingAndGlyphs" >6</text><rect x="540.43" y="238.79" width="8.76" height="0.95" fill="#1a1a1a"/><text x="550.47" y="243.1" font-size="14.6" textLength="6.96" lengthAdjust="spacingAndGlyphs" >4</text><rect x="573.83" y="238.79" width="8.76" height="0.95" fill="#1a1a1a"/><text x="583.82" y="243.1" font-size="14.6" textLength="7.27" lengthAdjust="spacingAndGlyphs" >2</text><text x="611.47" y="243.1" font-size="14.6" textLength="7.27" lengthAdjust="spacingAndGlyphs" >0</text><text x="644.94" y="243.1" font-size="14.6" textLength="7.27" lengthAdjust="spacingAndGlyphs" >2</text><text x="678.39" y="243.1" font-size="14.6" textLength="6.96" lengthAdjust="spacingAndGlyphs" >4</text><text x="372.55" y="46.3" font-size="14.6" textLength="14.19" lengthAdjust="spacingAndGlyphs" >10</text><rect x="387.5" y="38.12" width="6.5" height="0.85" fill="#1a1a1a"/><text x="395.28" y="41.2" font-size="10.2" textLength="13.75" lengthAdjust="spacingAndGlyphs" >0.5</text><text x="381.21" y="118.3" font-size="14.6" textLength="14.64" lengthAdjust="spacingAndGlyphs" >10</text><rect x="396.3" y="110.12" width="6.6" height="0.85" fill="#1a1a1a"/><text x="403.85" y="113.2" font-size="10.2" textLength="5.4" lengthAdjust="spacingAndGlyphs" >1</text><text x="372.32" y="190.3" font-size="14.6" textLength="14.53" lengthAdjust="spacingAndGlyphs" >10</text><rect x="387.4" y="182.12" width="6.6" height="0.85" fill="#1a1a1a"/><text x="395.01" y="185.2" font-size="10.2" textLength="14.02" lengthAdjust="spacingAndGlyphs" >1.5</text><text x="517.53" y="263.3" font-size="15.1" textLength="28.29" lengthAdjust="spacingAndGlyphs" >SNR</text><text x="550.65" y="263.3" font-size="15.1" textLength="27.2" lengthAdjust="spacingAndGlyphs" >(dB)</text><text transform="translate(364.3 152.6) rotate(-90)" x="-0.43" y="0" font-size="15.1" textLength="69.75" lengthAdjust="spacingAndGlyphs" >BPSK BER</text><text x="512.33" y="290.5" font-size="12.2" textLength="15.14" lengthAdjust="spacingAndGlyphs" class="cap">(b)</text></g><g><path d="M230.4 542.75H504.5M230.4 538.95H504.5M230.4 535.74H504.5M230.4 532.95H504.5M230.4 530.5H504.5M230.4 513.85H504.5M230.4 505.4H504.5M230.4 499.4H504.5M230.4 494.75H504.5M230.4 490.95H504.5M230.4 487.74H504.5M230.4 484.95H504.5M230.4 482.5H504.5M230.4 465.85H504.5M230.4 457.4H504.5M230.4 451.4H504.5M230.4 446.75H504.5M230.4 442.95H504.5M230.4 439.74H504.5M230.4 436.95H504.5M230.4 434.5H504.5M230.4 417.85H504.5M230.4 409.4H504.5M230.4 403.4H504.5M230.4 398.75H504.5M230.4 394.95H504.5M230.4 391.74H504.5M230.4 388.95H504.5M230.4 386.5H504.5M230.4 369.85H504.5M230.4 361.4H504.5M230.4 355.4H504.5M230.4 350.75H504.5M230.4 346.95H504.5M230.4 343.74H504.5M230.4 340.95H504.5M230.4 338.5H504.5" stroke="#d2d2d2" stroke-width="0.9" fill="none"/><path d="M230.4 336.3H504.5M230.4 384.3H504.5M230.4 432.3H504.5M230.4 480.3H504.5M230.4 528.3H504.5M264.66 317.3V545.2M298.93 317.3V545.2M333.19 317.3V545.2M367.45 317.3V545.2M401.71 317.3V545.2M435.98 317.3V545.2M470.24 317.3V545.2" stroke="#cccccc" stroke-width="0.9" fill="none"/><path d="M230.4 336.3h6M504.5 336.3h-6M230.4 384.3h6M504.5 384.3h-6M230.4 432.3h6M504.5 432.3h-6M230.4 480.3h6M504.5 480.3h-6M230.4 528.3h6M504.5 528.3h-6M230.4 542.75h4M504.5 542.75h-4M230.4 538.95h4M504.5 538.95h-4M230.4 535.74h4M504.5 535.74h-4M230.4 532.95h4M504.5 532.95h-4M230.4 530.5h4M504.5 530.5h-4M230.4 513.85h4M504.5 513.85h-4M230.4 505.4h4M504.5 505.4h-4M230.4 499.4h4M504.5 499.4h-4M230.4 494.75h4M504.5 494.75h-4M230.4 490.95h4M504.5 490.95h-4M230.4 487.74h4M504.5 487.74h-4M230.4 484.95h4M504.5 484.95h-4M230.4 482.5h4M504.5 482.5h-4M230.4 465.85h4M504.5 465.85h-4M230.4 457.4h4M504.5 457.4h-4M230.4 451.4h4M504.5 451.4h-4M230.4 446.75h4M504.5 446.75h-4M230.4 442.95h4M504.5 442.95h-4M230.4 439.74h4M504.5 439.74h-4M230.4 436.95h4M504.5 436.95h-4M230.4 434.5h4M504.5 434.5h-4M230.4 417.85h4M504.5 417.85h-4M230.4 409.4h4M504.5 409.4h-4M230.4 403.4h4M504.5 403.4h-4M230.4 398.75h4M504.5 398.75h-4M230.4 394.95h4M504.5 394.95h-4M230.4 391.74h4M504.5 391.74h-4M230.4 388.95h4M504.5 388.95h-4M230.4 386.5h4M504.5 386.5h-4M230.4 369.85h4M504.5 369.85h-4M230.4 361.4h4M504.5 361.4h-4M230.4 355.4h4M504.5 355.4h-4M230.4 350.75h4M504.5 350.75h-4M230.4 346.95h4M504.5 346.95h-4M230.4 343.74h4M504.5 343.74h-4M230.4 340.95h4M504.5 340.95h-4M230.4 338.5h4M504.5 338.5h-4M264.66 317.3v6M264.66 545.2v-6M298.93 317.3v6M298.93 545.2v-6M333.19 317.3v6M333.19 545.2v-6M367.45 317.3v6M367.45 545.2v-6M401.71 317.3v6M401.71 545.2v-6M435.98 317.3v6M435.98 545.2v-6M470.24 317.3v6M470.24 545.2v-6" stroke="#555" stroke-width="0.6" fill="none"/><path d="M230.4 336.3L264.66 336.3L298.93 336.3L333.19 336.51L367.45 336.72L401.71 336.93L435.98 345.28L470.24 402.89L504.5 489.93" stroke="#0000ff" stroke-width="0.7" fill="none" stroke-linejoin="round"/><circle cx="230.4" cy="336.3" r="3" fill="#0000cc" stroke="#0000ff" stroke-width="0.5"/><circle cx="264.66" cy="336.3" r="3" fill="#0000cc" stroke="#0000ff" stroke-width="0.5"/><circle cx="298.93" cy="336.3" r="3" fill="#0000cc" stroke="#0000ff" stroke-width="0.5"/><circle cx="333.19" cy="336.51" r="3" fill="#0000cc" stroke="#0000ff" stroke-width="0.5"/><circle cx="367.45" cy="336.72" r="3" fill="#0000cc" stroke="#0000ff" stroke-width="0.5"/><circle cx="401.71" cy="336.93" r="3" fill="#0000cc" stroke="#0000ff" stroke-width="0.5"/><circle cx="435.98" cy="345.28" r="3" fill="#0000cc" stroke="#0000ff" stroke-width="0.5"/><circle cx="470.24" cy="402.89" r="3" fill="#0000cc" stroke="#0000ff" stroke-width="0.5"/><circle cx="504.5" cy="489.93" r="3" fill="#0000cc" stroke="#0000ff" stroke-width="0.5"/><path d="M230.4 336.3L264.66 336.3L298.93 336.3L333.19 336.51L367.45 337.15L401.71 337.15L435.98 348.39L470.24 417.03L504.5 495.6" stroke="#ff0000" stroke-width="0.7" fill="none" stroke-linejoin="round"/><rect x="227.4" y="333.3" width="6" height="6" fill="#cc0000" stroke="#ff0000" stroke-width="0.5"/><rect x="261.66" y="333.3" width="6" height="6" fill="#cc0000" stroke="#ff0000" stroke-width="0.5"/><rect x="295.93" y="333.3" width="6" height="6" fill="#cc0000" stroke="#ff0000" stroke-width="0.5"/><rect x="330.19" y="333.51" width="6" height="6" fill="#cc0000" stroke="#ff0000" stroke-width="0.5"/><rect x="364.45" y="334.15" width="6" height="6" fill="#cc0000" stroke="#ff0000" stroke-width="0.5"/><rect x="398.71" y="334.15" width="6" height="6" fill="#cc0000" stroke="#ff0000" stroke-width="0.5"/><rect x="432.98" y="345.39" width="6" height="6" fill="#cc0000" stroke="#ff0000" stroke-width="0.5"/><rect x="467.24" y="414.03" width="6" height="6" fill="#cc0000" stroke="#ff0000" stroke-width="0.5"/><rect x="501.5" y="492.6" width="6" height="6" fill="#cc0000" stroke="#ff0000" stroke-width="0.5"/><path d="M230.4 336.3L264.66 336.3L298.93 336.3L333.19 336.93L367.45 337.59L401.71 337.59L435.98 352.49L470.24 432.3L504.5 501.31" stroke="#734d26" stroke-width="0.7" fill="none" stroke-linejoin="round"/><circle cx="230.4" cy="336.3" r="3" fill="#996633" stroke="#734d26" stroke-width="0.5"/><path d="M228.3 334.2L232.5 338.4M228.3 338.4L232.5 334.2" stroke="#734d26" stroke-width="0.4" opacity="0.5"/><circle cx="264.66" cy="336.3" r="3" fill="#996633" stroke="#734d26" stroke-width="0.5"/><path d="M262.56 334.2L266.76 338.4M262.56 338.4L266.76 334.2" stroke="#734d26" stroke-width="0.4" opacity="0.5"/><circle cx="298.93" cy="336.3" r="3" fill="#996633" stroke="#734d26" stroke-width="0.5"/><path d="M296.82 334.2L301.03 338.4M296.82 338.4L301.03 334.2" stroke="#734d26" stroke-width="0.4" opacity="0.5"/><circle cx="333.19" cy="336.93" r="3" fill="#996633" stroke="#734d26" stroke-width="0.5"/><path d="M331.09 334.83L335.29 339.03M331.09 339.03L335.29 334.83" stroke="#734d26" stroke-width="0.4" opacity="0.5"/><circle cx="367.45" cy="337.59" r="3" fill="#996633" stroke="#734d26" stroke-width="0.5"/><path d="M365.35 335.49L369.55 339.69M365.35 339.69L369.55 335.49" stroke="#734d26" stroke-width="0.4" opacity="0.5"/><circle cx="401.71" cy="337.59" r="3" fill="#996633" stroke="#734d26" stroke-width="0.5"/><path d="M399.61 335.49L403.81 339.69M399.61 339.69L403.81 335.49" stroke="#734d26" stroke-width="0.4" opacity="0.5"/><circle cx="435.98" cy="352.49" r="3" fill="#996633" stroke="#734d26" stroke-width="0.5"/><path d="M433.88 350.39L438.08 354.59M433.88 354.59L438.08 350.39" stroke="#734d26" stroke-width="0.4" opacity="0.5"/><circle cx="470.24" cy="432.3" r="3" fill="#996633" stroke="#734d26" stroke-width="0.5"/><path d="M468.14 430.2L472.34 434.4M468.14 434.4L472.34 430.2" stroke="#734d26" stroke-width="0.4" opacity="0.5"/><circle cx="504.5" cy="501.31" r="3" fill="#996633" stroke="#734d26" stroke-width="0.5"/><path d="M502.4 499.21L506.6 503.41M502.4 503.41L506.6 499.21" stroke="#734d26" stroke-width="0.4" opacity="0.5"/><path d="M230.4 336.3L264.66 336.3L298.93 336.3L333.19 337.81L367.45 338.5L401.71 338.5L435.98 355.4L470.24 435.44L504.5 509.2" stroke="#000000" stroke-width="0.7" fill="none" stroke-linejoin="round"/><path d="M230.4 336.3L230.4 333.3M230.4 336.3L227.55 335.37M230.4 336.3L228.64 338.73M230.4 336.3L232.16 338.73M230.4 336.3L233.25 335.37" stroke="#000000" stroke-width="0.7" fill="none"/><path d="M264.66 336.3L264.66 333.3M264.66 336.3L261.81 335.37M264.66 336.3L262.9 338.73M264.66 336.3L266.43 338.73M264.66 336.3L267.52 335.37" stroke="#000000" stroke-width="0.7" fill="none"/><path d="M298.93 336.3L298.93 333.3M298.93 336.3L296.07 335.37M298.93 336.3L297.16 338.73M298.93 336.3L300.69 338.73M298.93 336.3L301.78 335.37" stroke="#000000" stroke-width="0.7" fill="none"/><path d="M333.19 337.81L333.19 334.81M333.19 337.81L330.33 336.89M333.19 337.81L331.42 340.24M333.19 337.81L334.95 340.24M333.19 337.81L336.04 336.89" stroke="#000000" stroke-width="0.7" fill="none"/><path d="M367.45 338.5L367.45 335.5M367.45 338.5L364.6 337.57M367.45 338.5L365.69 340.92M367.45 338.5L369.21 340.92M367.45 338.5L370.3 337.57" stroke="#000000" stroke-width="0.7" fill="none"/><path d="M401.71 338.5L401.71 335.5M401.71 338.5L398.86 337.57M401.71 338.5L399.95 340.92M401.71 338.5L403.48 340.92M401.71 338.5L404.57 337.57" stroke="#000000" stroke-width="0.7" fill="none"/><path d="M435.98 355.4L435.98 352.4M435.98 355.4L433.12 354.47M435.98 355.4L434.21 357.83M435.98 355.4L437.74 357.83M435.98 355.4L438.83 354.47" stroke="#000000" stroke-width="0.7" fill="none"/><path d="M470.24 435.44L470.24 432.44M470.24 435.44L467.38 434.52M470.24 435.44L468.47 437.87M470.24 435.44L472 437.87M470.24 435.44L473.09 434.52" stroke="#000000" stroke-width="0.7" fill="none"/><path d="M504.5 509.2L504.5 506.2M504.5 509.2L501.65 508.27M504.5 509.2L502.74 511.63M504.5 509.2L506.26 511.63M504.5 509.2L507.35 508.27" stroke="#000000" stroke-width="0.7" fill="none"/><path d="M230.4 336.3L264.66 336.3L298.93 336.3L333.19 338.96L367.45 339.69L401.71 339.44L435.98 360.71L470.24 444.02L504.5 525.94" stroke="#0000ff" stroke-width="0.7" fill="none" stroke-linejoin="round"/><path d="M230.4 333.3L232.65 336.3L230.4 339.3L228.15 336.3Z" fill="#0000cc" stroke="#0000ff" stroke-width="0.5"/><path d="M264.66 333.3L266.91 336.3L264.66 339.3L262.41 336.3Z" fill="#0000cc" stroke="#0000ff" stroke-width="0.5"/><path d="M298.93 333.3L301.18 336.3L298.93 339.3L296.68 336.3Z" fill="#0000cc" stroke="#0000ff" stroke-width="0.5"/><path d="M333.19 335.96L335.44 338.96L333.19 341.96L330.94 338.96Z" fill="#0000cc" stroke="#0000ff" stroke-width="0.5"/><path d="M367.45 336.69L369.7 339.69L367.45 342.69L365.2 339.69Z" fill="#0000cc" stroke="#0000ff" stroke-width="0.5"/><path d="M401.71 336.44L403.96 339.44L401.71 342.44L399.46 339.44Z" fill="#0000cc" stroke="#0000ff" stroke-width="0.5"/><path d="M435.98 357.71L438.23 360.71L435.98 363.71L433.73 360.71Z" fill="#0000cc" stroke="#0000ff" stroke-width="0.5"/><path d="M470.24 441.02L472.49 444.02L470.24 447.02L467.99 444.02Z" fill="#0000cc" stroke="#0000ff" stroke-width="0.5"/><path d="M504.5 522.94L506.75 525.94L504.5 528.94L502.25 525.94Z" fill="#0000cc" stroke="#0000ff" stroke-width="0.5"/><rect x="232.6" y="475.2" width="222.2" height="68.2" fill="#fff" stroke="#222" stroke-width="0.7"/><path d="M237 484.2H261" stroke="#0000ff" stroke-width="0.7"/><circle cx="249.2" cy="484.2" r="3" fill="#0000cc" stroke="#0000ff" stroke-width="0.5"/><text x="266.97" y="486" font-size="7.1" textLength="46.6" lengthAdjust="spacingAndGlyphs" class="lg">RNN-based</text><text x="317.47" y="486" font-size="7.1" textLength="20.58" lengthAdjust="spacingAndGlyphs" class="lg">BHO</text><text x="341.66" y="486" font-size="7.1" textLength="33.57" lengthAdjust="spacingAndGlyphs" class="lg">Decoder</text><text x="378.86" y="486" font-size="7.1" textLength="8.06" lengthAdjust="spacingAndGlyphs" class="lg">at</text><text x="391.06" y="486" font-size="7.1" textLength="15.47" lengthAdjust="spacingAndGlyphs" class="lg">Pop</text><text x="409.49" y="486" font-size="7.1" textLength="17.11" lengthAdjust="spacingAndGlyphs" class="lg">Size</text><rect x="430.35" y="482.93" width="6.2" height="0.75" fill="#444"/><rect x="430.35" y="484.88" width="6.2" height="0.75" fill="#444"/><text x="440.43" y="486" font-size="7.1" textLength="5.34" lengthAdjust="spacingAndGlyphs" class="lg">5</text><path d="M237 496.6H261" stroke="#ff0000" stroke-width="0.7"/><rect x="246.2" y="493.6" width="6" height="6" fill="#cc0000" stroke="#ff0000" stroke-width="0.5"/><text x="264.72" y="498.7" font-size="7.1" textLength="46.6" lengthAdjust="spacingAndGlyphs" class="lg">RNN-based</text><text x="315.22" y="498.7" font-size="7.1" textLength="20.58" lengthAdjust="spacingAndGlyphs" class="lg">BHO</text><text x="339.41" y="498.7" font-size="7.1" textLength="33.57" lengthAdjust="spacingAndGlyphs" class="lg">Decoder</text><text x="376.61" y="498.7" font-size="7.1" textLength="8.06" lengthAdjust="spacingAndGlyphs" class="lg">at</text><text x="388.81" y="498.7" font-size="7.1" textLength="15.47" lengthAdjust="spacingAndGlyphs" class="lg">Pop</text><text x="407.24" y="498.7" font-size="7.1" textLength="17.11" lengthAdjust="spacingAndGlyphs" class="lg">Size</text><rect x="428.1" y="495.62" width="6.2" height="0.75" fill="#444"/><rect x="428.1" y="497.57" width="6.2" height="0.75" fill="#444"/><text x="437.92" y="498.7" font-size="7.1" textLength="10.07" lengthAdjust="spacingAndGlyphs" class="lg">10</text><path d="M237 509.3H261" stroke="#734d26" stroke-width="0.7"/><circle cx="249.2" cy="509.3" r="3" fill="#996633" stroke="#734d26" stroke-width="0.5"/><path d="M247.1 507.2L251.3 511.4M247.1 511.4L251.3 507.2" stroke="#734d26" stroke-width="0.4" opacity="0.5"/><text x="264.72" y="511.2" font-size="7.1" textLength="46.6" lengthAdjust="spacingAndGlyphs" class="lg">RNN-based</text><text x="315.22" y="511.2" font-size="7.1" textLength="20.58" lengthAdjust="spacingAndGlyphs" class="lg">BHO</text><text x="339.41" y="511.2" font-size="7.1" textLength="33.57" lengthAdjust="spacingAndGlyphs" class="lg">Decoder</text><text x="376.61" y="511.2" font-size="7.1" textLength="8.06" lengthAdjust="spacingAndGlyphs" class="lg">at</text><text x="388.81" y="511.2" font-size="7.1" textLength="15.47" lengthAdjust="spacingAndGlyphs" class="lg">Pop</text><text x="407.24" y="511.2" font-size="7.1" textLength="17.11" lengthAdjust="spacingAndGlyphs" class="lg">Size</text><rect x="428.1" y="508.12" width="6.2" height="0.75" fill="#444"/><rect x="428.1" y="510.07" width="6.2" height="0.75" fill="#444"/><text x="437.91" y="511.2" font-size="7.1" textLength="10.08" lengthAdjust="spacingAndGlyphs" class="lg">15</text><path d="M237 521.8H261" stroke="#000000" stroke-width="0.7"/><path d="M249.2 521.8L249.2 518.8M249.2 521.8L246.35 520.87M249.2 521.8L247.44 524.23M249.2 521.8L250.96 524.23M249.2 521.8L252.05 520.87" stroke="#000000" stroke-width="0.7" fill="none"/><text x="264.72" y="523.8" font-size="7.1" textLength="46.6" lengthAdjust="spacingAndGlyphs" class="lg">RNN-based</text><text x="315.22" y="523.8" font-size="7.1" textLength="20.58" lengthAdjust="spacingAndGlyphs" class="lg">BHO</text><text x="339.41" y="523.8" font-size="7.1" textLength="33.57" lengthAdjust="spacingAndGlyphs" class="lg">Decoder</text><text x="376.61" y="523.8" font-size="7.1" textLength="8.06" lengthAdjust="spacingAndGlyphs" class="lg">at</text><text x="388.81" y="523.8" font-size="7.1" textLength="15.47" lengthAdjust="spacingAndGlyphs" class="lg">Pop</text><text x="407.24" y="523.8" font-size="7.1" textLength="17.11" lengthAdjust="spacingAndGlyphs" class="lg">Size</text><rect x="428.1" y="520.73" width="6.2" height="0.75" fill="#444"/><rect x="428.1" y="522.68" width="6.2" height="0.75" fill="#444"/><text x="438.38" y="523.8" font-size="7.1" textLength="9.59" lengthAdjust="spacingAndGlyphs" class="lg">20</text><path d="M237 534.5H261" stroke="#0000ff" stroke-width="0.7"/><path d="M249.2 531.5L251.45 534.5L249.2 537.5L246.95 534.5Z" fill="#0000cc" stroke="#0000ff" stroke-width="0.5"/><text x="264.72" y="536.4" font-size="7.1" textLength="46.6" lengthAdjust="spacingAndGlyphs" class="lg">RNN-based</text><text x="315.22" y="536.4" font-size="7.1" textLength="20.58" lengthAdjust="spacingAndGlyphs" class="lg">BHO</text><text x="339.41" y="536.4" font-size="7.1" textLength="33.57" lengthAdjust="spacingAndGlyphs" class="lg">Decoder</text><text x="376.61" y="536.4" font-size="7.1" textLength="8.06" lengthAdjust="spacingAndGlyphs" class="lg">at</text><text x="388.81" y="536.4" font-size="7.1" textLength="15.47" lengthAdjust="spacingAndGlyphs" class="lg">Pop</text><text x="407.24" y="536.4" font-size="7.1" textLength="17.11" lengthAdjust="spacingAndGlyphs" class="lg">Size</text><rect x="428.1" y="533.33" width="6.2" height="0.75" fill="#444"/><rect x="428.1" y="535.28" width="6.2" height="0.75" fill="#444"/><text x="438.38" y="536.4" font-size="7.1" textLength="9.6" lengthAdjust="spacingAndGlyphs" class="lg">25</text><rect x="230.4" y="317.3" width="274.1" height="227.9" fill="none" stroke="#222" stroke-width="0.8"/><rect x="218.56" y="555.18" width="9" height="0.95" fill="#1a1a1a"/><text x="228.79" y="559.6" font-size="15" textLength="7.12" lengthAdjust="spacingAndGlyphs" >1</text><text x="236.33" y="559.6" font-size="15" textLength="7.46" lengthAdjust="spacingAndGlyphs" >2</text><rect x="252.83" y="555.18" width="9" height="0.95" fill="#1a1a1a"/><text x="263.05" y="559.6" font-size="15" textLength="7.12" lengthAdjust="spacingAndGlyphs" >1</text><text x="270.51" y="559.6" font-size="15" textLength="7.47" lengthAdjust="spacingAndGlyphs" >0</text><rect x="290.84" y="555.18" width="9" height="0.95" fill="#1a1a1a"/><text x="301.08" y="559.6" font-size="15" textLength="7.34" lengthAdjust="spacingAndGlyphs" >8</text><rect x="325.1" y="555.18" width="9" height="0.95" fill="#1a1a1a"/><text x="335.28" y="559.6" font-size="15" textLength="7.29" lengthAdjust="spacingAndGlyphs" >6</text><rect x="359.37" y="555.18" width="9" height="0.95" fill="#1a1a1a"/><text x="369.68" y="559.6" font-size="15" textLength="7.15" lengthAdjust="spacingAndGlyphs" >4</text><rect x="393.63" y="555.18" width="9" height="0.95" fill="#1a1a1a"/><text x="403.89" y="559.6" font-size="15" textLength="7.46" lengthAdjust="spacingAndGlyphs" >2</text><text x="432.24" y="559.6" font-size="15" textLength="7.47" lengthAdjust="spacingAndGlyphs" >0</text><text x="466.58" y="559.6" font-size="15" textLength="7.46" lengthAdjust="spacingAndGlyphs" >2</text><text x="500.89" y="559.6" font-size="15" textLength="7.15" lengthAdjust="spacingAndGlyphs" >4</text><text x="204.87" y="342.4" font-size="15" textLength="15.1" lengthAdjust="spacingAndGlyphs" >10</text><text x="219.72" y="337.2" font-size="10.5" textLength="4.95" lengthAdjust="spacingAndGlyphs" >0</text><text x="195.78" y="390.4" font-size="15" textLength="14.99" lengthAdjust="spacingAndGlyphs" >10</text><rect x="211.3" y="382.04" width="6.6" height="0.85" fill="#1a1a1a"/><text x="219.18" y="385.2" font-size="10.5" textLength="5.82" lengthAdjust="spacingAndGlyphs" >1</text><text x="195.78" y="438.4" font-size="15" textLength="14.99" lengthAdjust="spacingAndGlyphs" >10</text><rect x="211.3" y="430.04" width="6.6" height="0.85" fill="#1a1a1a"/><text x="219.2" y="433.2" font-size="10.5" textLength="5.74" lengthAdjust="spacingAndGlyphs" >2</text><text x="195.78" y="486.4" font-size="15" textLength="14.99" lengthAdjust="spacingAndGlyphs" >10</text><rect x="211.3" y="478.04" width="6.6" height="0.85" fill="#1a1a1a"/><text x="219.17" y="481.2" font-size="10.5" textLength="5.57" lengthAdjust="spacingAndGlyphs" >3</text><text x="195.78" y="534.4" font-size="15" textLength="14.99" lengthAdjust="spacingAndGlyphs" >10</text><rect x="211.3" y="526.04" width="6.6" height="0.85" fill="#1a1a1a"/><text x="219.51" y="529.2" font-size="10.5" textLength="4.95" lengthAdjust="spacingAndGlyphs" >4</text><text x="335.81" y="580.6" font-size="15.5" textLength="28.81" lengthAdjust="spacingAndGlyphs" >SNR</text><text x="369.94" y="580.6" font-size="15.5" textLength="27.62" lengthAdjust="spacingAndGlyphs" >(dB)</text><text transform="translate(187 445.2) rotate(-90)" x="-0.45" y="0" font-size="15.5" textLength="28.67" lengthAdjust="spacingAndGlyphs" >FER</text><text x="335.34" y="607.8" font-size="12.2" textLength="14.23" lengthAdjust="spacingAndGlyphs" class="cap">(c)</text></g>
</g>
</svg>
</body></html>
